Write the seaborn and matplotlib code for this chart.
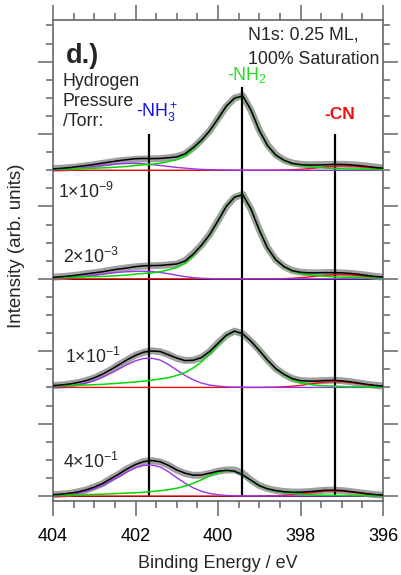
import numpy as np
import matplotlib
matplotlib.use("Agg")
import matplotlib.pyplot as plt
from matplotlib.ticker import MultipleLocator
import seaborn as sns

# ---------------- data ----------------
energy = [404.0, 403.8, 403.6, 403.4, 403.2, 403.0, 402.8, 402.6, 402.4, 402.2,
          402.0, 401.8, 401.6, 401.4, 401.2, 401.0, 400.8, 400.6, 400.4, 400.2,
          400.0, 399.8, 399.6, 399.4, 399.2, 399.0, 398.8, 398.6, 398.4, 398.2,
          398.0, 397.8, 397.6, 397.4, 397.2, 397.0, 396.8, 396.6, 396.4, 396.2, 396.0]

pressure_labels = [r"1×10$^{-9}$", r"2×10$^{-3}$", r"1×10$^{-1}$", r"4×10$^{-1}$"]
offsets = [18, 12, 6, 0]

# spectrum A : 1e-9 Torr
data_A = [0.10, 0.11, 0.15, 0.19, 0.25, 0.31, 0.38, 0.45, 0.52, 0.56, 0.60, 0.62, 0.63, 0.64, 0.69, 0.75,
          0.90, 1.24, 1.68, 2.18, 2.86, 3.52, 3.99, 4.12, 3.30, 2.22, 1.40, 0.86, 0.56, 0.40, 0.33, 0.30,
          0.31, 0.31, 0.32, 0.33, 0.31, 0.28, 0.24, 0.18, 0.13]
nh2_A = [0.04, 0.06, 0.07, 0.09, 0.10, 0.11, 0.13, 0.15, 0.18, 0.21, 0.26, 0.30, 0.33, 0.39, 0.48, 0.58,
         0.79, 1.18, 1.62, 2.16, 2.82, 3.53, 3.98, 4.11, 3.32, 2.20, 1.37, 0.83, 0.54, 0.35, 0.26, 0.20,
         0.16, 0.12, 0.10, 0.08, 0.07, 0.06, 0.05, 0.045, 0.04]
nh3_A = [0.03, 0.045, 0.075, 0.115, 0.155, 0.21, 0.26, 0.31, 0.35, 0.375, 0.375, 0.35, 0.31, 0.26, 0.21,
         0.155, 0.115, 0.075, 0.045, 0.03, 0.02, 0.01, 0, 0, 0, 0, 0, 0, 0, 0, 0, 0, 0, 0, 0, 0, 0, 0, 0, 0, 0]
cn_A = [0, 0, 0, 0, 0, 0, 0, 0, 0, 0, 0, 0, 0, 0, 0, 0, 0, 0, 0, 0, 0, 0, 0, 0, 0, 0, 0,
        0.006, 0.012, 0.026, 0.05, 0.085, 0.13, 0.18, 0.22, 0.24, 0.23, 0.20, 0.16, 0.11, 0.07]

# spectrum B : 2e-3 Torr
data_B = [0.09, 0.12, 0.16, 0.21, 0.28, 0.33, 0.40, 0.48, 0.55, 0.61, 0.66, 0.70, 0.72, 0.74, 0.77, 0.82,
          1.00, 1.40, 1.87, 2.46, 3.22, 3.98, 4.50, 4.66, 3.84, 2.72, 1.72, 1.06, 0.68, 0.46, 0.37, 0.34,
          0.33, 0.34, 0.35, 0.33, 0.30, 0.26, 0.20, 0.14, 0.09]
nh2_B = [0.05, 0.07, 0.08, 0.10, 0.11, 0.12, 0.13, 0.15, 0.18, 0.21, 0.26, 0.30, 0.33, 0.39, 0.50, 0.62,
         0.86, 1.30, 1.83, 2.44, 3.20, 4.00, 4.51, 4.65, 3.85, 2.70, 1.70, 1.05, 0.66, 0.42, 0.30, 0.23,
         0.18, 0.14, 0.11, 0.09, 0.08, 0.07, 0.06, 0.05, 0.045]
nh3_B = [0.03, 0.045, 0.075, 0.11, 0.16, 0.21, 0.26, 0.32, 0.36, 0.39, 0.41, 0.42, 0.40, 0.35, 0.28, 0.20,
         0.12, 0.065, 0.03, 0.012, 0.005, 0, 0, 0, 0, 0, 0, 0, 0, 0, 0, 0, 0, 0, 0, 0, 0, 0, 0, 0, 0]
cn_B = [0, 0, 0, 0, 0, 0, 0, 0, 0, 0, 0, 0, 0, 0, 0, 0, 0, 0, 0, 0, 0, 0, 0, 0, 0, 0, 0,
        0.005, 0.012, 0.03, 0.06, 0.10, 0.15, 0.20, 0.23, 0.24, 0.22, 0.18, 0.13, 0.08, 0.05]

# spectrum C : 1e-1 Torr
data_C = [0.11, 0.13, 0.19, 0.26, 0.38, 0.52, 0.74, 0.97, 1.26, 1.52, 1.78, 1.94, 2.02, 1.97, 1.81, 1.60,
          1.49, 1.50, 1.66, 1.98, 2.45, 2.88, 3.11, 2.96, 2.55, 2.06, 1.52, 1.04, 0.73, 0.49, 0.38, 0.35,
          0.36, 0.38, 0.40, 0.37, 0.32, 0.25, 0.18, 0.12, 0.08]
nh2_C = [0.08, 0.09, 0.10, 0.12, 0.13, 0.15, 0.17, 0.20, 0.23, 0.27, 0.30, 0.35, 0.40, 0.47, 0.54, 0.66,
         0.82, 1.08, 1.41, 1.86, 2.37, 2.85, 3.10, 2.95, 2.55, 2.04, 1.50, 1.02, 0.69, 0.42, 0.26, 0.17,
         0.11, 0.09, 0.07, 0.05, 0.04, 0.035, 0.03, 0.025, 0.02]
nh3_C = [0.02, 0.045, 0.085, 0.15, 0.24, 0.38, 0.56, 0.78, 1.02, 1.26, 1.47, 1.60, 1.61, 1.51, 1.26, 0.96,
         0.66, 0.42, 0.24, 0.13, 0.065, 0.03, 0.013, 0.005, 0, 0, 0, 0, 0, 0, 0, 0, 0, 0, 0, 0, 0, 0, 0, 0, 0]
cn_C = [0, 0, 0, 0, 0, 0, 0, 0, 0, 0, 0, 0, 0, 0, 0, 0, 0, 0, 0, 0, 0, 0, 0, 0, 0, 0,
        0.008, 0.016, 0.035, 0.067, 0.11, 0.18, 0.24, 0.29, 0.32, 0.31, 0.27, 0.21, 0.14, 0.09, 0.05]

# spectrum D : 4e-1 Torr
data_D = [0.07, 0.10, 0.14, 0.23, 0.33, 0.50, 0.68, 0.96, 1.21, 1.51, 1.73, 1.91, 1.95, 1.88, 1.70, 1.43,
          1.25, 1.14, 1.15, 1.25, 1.37, 1.44, 1.44, 1.26, 0.88, 0.58, 0.41, 0.31, 0.25, 0.22, 0.22, 0.24,
          0.28, 0.32, 0.33, 0.30, 0.25, 0.19, 0.13, 0.08, 0.05]
nh2_D = [0.045, 0.053, 0.063, 0.067, 0.077, 0.087, 0.10, 0.12, 0.14, 0.16, 0.18, 0.21, 0.25, 0.29, 0.35,
         0.43, 0.55, 0.70, 0.90, 1.12, 1.30, 1.39, 1.36, 1.16, 0.87, 0.57, 0.39, 0.28, 0.20, 0.14, 0.10,
         0.07, 0.056, 0.046, 0.039, 0.032, 0.027, 0.021, 0.017, 0.014, 0.011]
nh3_D = [0.024, 0.048, 0.09, 0.155, 0.26, 0.40, 0.59, 0.83, 1.08, 1.34, 1.56, 1.69, 1.71, 1.60, 1.34, 1.01,
         0.71, 0.45, 0.26, 0.14, 0.07, 0.03, 0.014, 0.005, 0, 0, 0, 0, 0, 0, 0, 0, 0, 0, 0, 0, 0, 0, 0, 0, 0]
cn_D = [0, 0, 0, 0, 0, 0, 0, 0, 0, 0, 0, 0, 0, 0, 0, 0, 0, 0, 0, 0, 0, 0, 0, 0, 0, 0,
        0.008, 0.017, 0.036, 0.067, 0.11, 0.17, 0.22, 0.27, 0.28, 0.27, 0.22, 0.17, 0.11, 0.067, 0.036]

# species marker energies (eV) and their top heights
marker_energy = [401.67, 399.43, 397.16]
marker_top = [20.0, 22.6, 20.0]

# ---------------- style ----------------
sns.set_theme(style="ticks")
plt.rcParams["font.family"] = ["Liberation Sans", "DejaVu Sans"]
plt.rcParams["mathtext.fontset"] = "custom"
plt.rcParams["mathtext.rm"] = "Liberation Sans"
plt.rcParams["mathtext.it"] = "Liberation Sans:italic"
plt.rcParams["mathtext.bf"] = "Liberation Sans:bold"

C_DATA = "#a0a0a0"
C_NH2 = "#00dc00"
C_NH3 = "#9933ee"
C_CN = "#ee1111"
C_AX = "#666666"

fig = plt.figure(figsize=(4.01, 5.75), dpi=100)
ax = fig.add_axes([53 / 401, 1 - 500.7 / 575, 330 / 401, 480.7 / 575])

spectra = [
    (data_A, nh2_A, nh3_A, cn_A),
    (data_B, nh2_B, nh3_B, cn_B),
    (data_C, nh2_C, nh3_C, cn_C),
    (data_D, nh2_D, nh3_D, cn_D),
]

x = np.array(energy)
for off, (dat, g, p, r) in zip(offsets, spectra):
    ax.axhline(off, color="black", lw=0.7, zorder=1)
    sns.lineplot(x=x, y=np.array(dat) + off, ax=ax, color=C_DATA, lw=5.0,
                 estimator=None, sort=False, zorder=2, legend=False)
    fit = np.array(g) + np.array(p) + np.array(r)
    sns.lineplot(x=x, y=np.array(r) + off, ax=ax, color=C_CN, lw=1.0,
                 estimator=None, sort=False, zorder=4, legend=False)
    sns.lineplot(x=x, y=np.array(p) + off, ax=ax, color=C_NH3, lw=1.0,
                 estimator=None, sort=False, zorder=4, legend=False)
    sns.lineplot(x=x, y=np.array(g) + off, ax=ax, color=C_NH2, lw=1.1,
                 estimator=None, sort=False, zorder=4, legend=False)
    sns.lineplot(x=x, y=fit + off, ax=ax, color="black", lw=1.1,
                 estimator=None, sort=False, zorder=5, legend=False)

ax.vlines(marker_energy, 0, marker_top, color="black", lw=1.6, zorder=3)

ax.set_xlim(404, 396)
ax.set_ylim(-0.26, 26.3)
ax.xaxis.set_major_locator(MultipleLocator(2))
ax.xaxis.set_minor_locator(MultipleLocator(0.5))
ax.yaxis.set_major_locator(MultipleLocator(4))
ax.yaxis.set_minor_locator(MultipleLocator(1))
ax.tick_params(which="major", direction="out", length=11, width=1.1, color=C_AX,
               top=True, right=True, left=True, bottom=True)
ax.tick_params(which="minor", direction="out", length=5.3, width=1.1, color=C_AX,
               top=True, right=True, left=True, bottom=True)
ax.tick_params(axis="y", labelleft=False, labelright=False)
ax.tick_params(axis="x", labelsize=13, pad=9, labelcolor="black", labeltop=False)
for s in ax.spines.values():
    s.set_color(C_AX)
    s.set_linewidth(1.2)

ax.set_xlabel("Binding Energy / eV", fontsize=13, labelpad=7)
ax.set_ylabel("Intensity (arb. units)", fontsize=13.5)
ax.yaxis.set_label_coords(-0.085, 0.53)

fs = 12.8
ax.text(403.685, 23.9, "d.)", fontsize=19.5, fontweight="bold", va="baseline", ha="left")
ax.text(403.765, 22.65, "Hydrogen", fontsize=fs, va="baseline", ha="left")
ax.text(403.765, 21.57, "Pressure", fontsize=fs, va="baseline", ha="left")
ax.text(403.765, 20.47, "/Torr:", fontsize=fs, va="baseline", ha="left")
ax.text(399.28, 25.23, "N1s: 0.25 ML,", fontsize=fs, va="baseline", ha="left")
ax.text(399.28, 23.87, "100% Saturation", fontsize=fs, va="baseline", ha="left")
ax.text(401.99, 20.92, r"-NH$_3^+$", fontsize=fs, color="#1010ee", va="baseline", ha="left")
ax.text(399.79, 22.98, r"-NH$_2$", fontsize=fs, color="#22dd22", va="baseline", ha="left")
ax.text(397.41, 20.81, "-CN", fontsize=12.5, color="#ee1111", fontweight="bold",
        va="baseline", ha="left")

label_pos = [(403.88, 16.45), (403.76, 12.86), (403.71, 7.36), (403.76, 1.56)]
for (lx, ly), lab in zip(label_pos, pressure_labels):
    ax.text(lx, ly, lab, fontsize=fs, va="baseline", ha="left")

fig.savefig("out.png", dpi=100)
